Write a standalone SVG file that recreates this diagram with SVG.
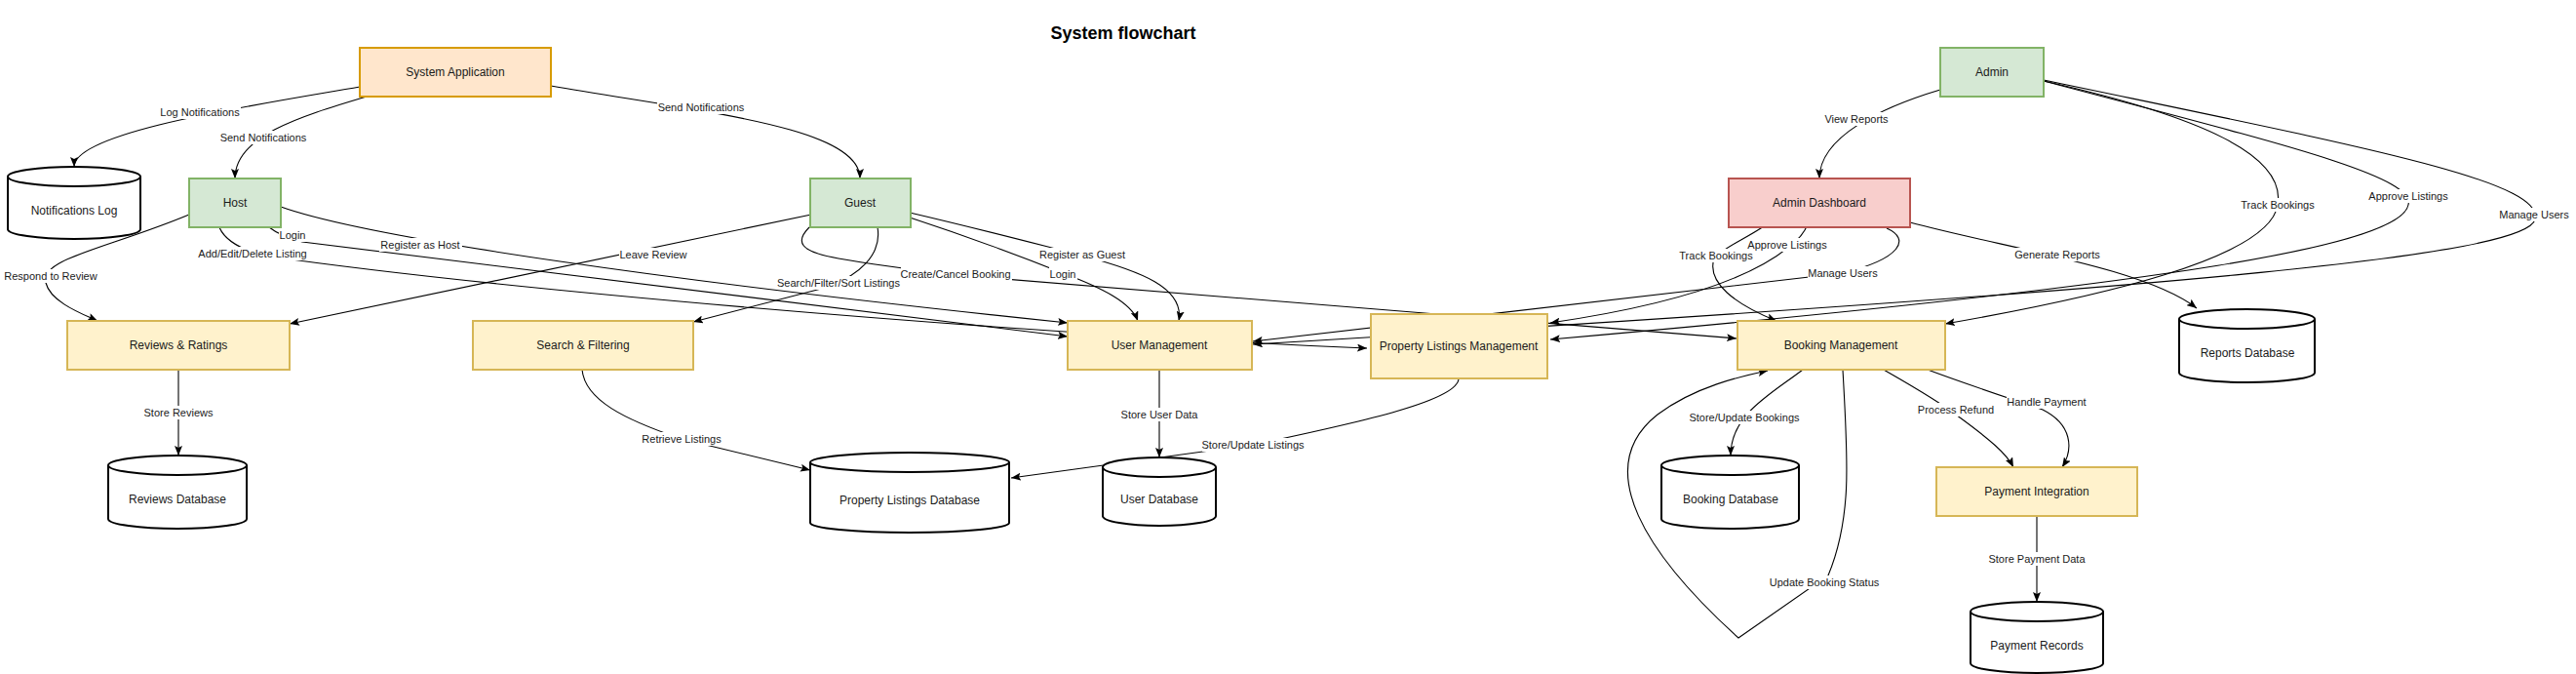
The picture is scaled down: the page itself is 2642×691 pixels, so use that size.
<svg xmlns="http://www.w3.org/2000/svg" width="2642" height="691" viewBox="0 0 2642 691">
<defs>
<style>
.n text{font-family:"Liberation Sans",Arial,sans-serif;font-size:12px;fill:#1a1a1a;text-anchor:middle}
.box{stroke-width:2}
.org{fill:#ffe6cc;stroke:#d79b00}
.grn{fill:#d5e8d4;stroke:#82b366}
.red{fill:#f8cecc;stroke:#b85450}
.yel{fill:#fff2cc;stroke:#d6b656}
.cyl{fill:#ffffff;stroke:#000000;stroke-width:2}
.e path{fill:none;stroke:#000000;stroke-width:1.1;marker-end:url(#arr)}
.e rect{fill:#ffffff}
.e text{font-family:"Liberation Sans",Arial,sans-serif;font-size:11px;fill:#1a1a1a;text-anchor:middle}
.title{font-family:"Liberation Sans",Arial,sans-serif;font-size:18px;font-weight:bold;fill:#000;text-anchor:middle}
</style>
<marker id="arr" viewBox="0 0 10 8" markerWidth="10" markerHeight="8" markerUnits="userSpaceOnUse" refX="10" refY="4" orient="auto">
<path d="M0,0 L10,4 L0,8 L2,4 z" fill="#000"/>
</marker>
</defs>
<rect width="2642" height="691" fill="#ffffff"/>
<text class="title" x="1152" y="40">System flowchart</text>

<g id="connectors" class="e">
<path d="M369,89 C260,108 76,135 76,171"/>
<path d="M376,99 C305,120 241,140 241,183"/>
<path d="M565,88 C720,115 882,130 882,183"/>
<path d="M194,220 C110,255 40,265 47,290 C52,310 85,322 100,329"/>
<path d="M276,233 C285,240 295,244 310,248 L1095,345"/>
<path d="M224,230 C228,245 245,255 270,262 C500,295 1000,340 1402,357"/>
<path d="M288,212 C380,245 700,290 1095,331"/>
<path d="M832,220 L297,332"/>
<path d="M900,233 C905,262 880,282 850,294 L711,330"/>
<path d="M830,233 C815,248 820,258 860,265 C900,272 940,277 980,282 L1781,347"/>
<path d="M933,223 C1000,245 1060,268 1090,280 C1130,295 1160,310 1167,329"/>
<path d="M933,218 C1010,236 1070,252 1110,262 C1170,278 1215,295 1209,329"/>
<path d="M1990,92 C1930,110 1866,140 1866,183"/>
<path d="M2096,83 C2260,120 2345,160 2336,210 C2328,265 2150,305 1995,332"/>
<path d="M2096,83 C2330,145 2478,180 2470,210 C2462,250 2250,290 1590,348"/>
<path d="M2096,82 C2420,150 2610,185 2600,225 C2590,262 2250,295 1285,353"/>
<path d="M1809,232 C1790,245 1765,255 1758,265 C1750,290 1780,312 1822,329"/>
<path d="M1854,230 C1850,240 1843,247 1835,253 C1790,290 1700,315 1590,331"/>
<path d="M1935,234 C1960,245 1950,265 1890,280 L1285,350"/>
<path d="M1959,228 C2060,255 2200,275 2253,316"/>
<path d="M183,379 L183,467"/>
<path d="M597,379 C600,410 640,430 699,450 L831,482"/>
<path d="M1189,379 L1189,469"/>
<path d="M1496,388 C1496,410 1400,432 1285,456 L1037,490"/>
<path d="M1849,379 C1815,405 1775,425 1775,467"/>
<path d="M1890,379 C1895,470 1900,530 1875,590 L1783,654 C1690,570 1630,480 1700,425 C1740,395 1790,385 1813,380"/>
<path d="M1932,379 C1960,395 1990,412 2010,428 C2040,450 2058,465 2065,479"/>
<path d="M1977,379 C2020,395 2060,408 2095,420 C2125,435 2127,460 2115,479"/>
<path d="M2089,529 L2089,617"/>

<rect x="164" y="108" width="83" height="14"/><text x="205" y="119">Log Notifications</text>
<rect x="225" y="134" width="91" height="14"/><text x="270" y="145">Send Notifications</text>
<rect x="674" y="103" width="91" height="14"/><text x="719" y="114">Send Notifications</text>
<rect x="4" y="276" width="97" height="14"/><text x="52" y="287">Respond to Review</text>
<rect x="286" y="234" width="29" height="14"/><text x="300" y="245">Login</text>
<rect x="203" y="253" width="113" height="14"/><text x="259" y="264">Add/Edit/Delete Listing</text>
<rect x="389" y="244" width="85" height="14"/><text x="431" y="255">Register as Host</text>
<rect x="635" y="254" width="71" height="14"/><text x="670" y="265">Leave Review</text>
<rect x="796" y="283" width="129" height="14"/><text x="860" y="294">Search/Filter/Sort Listings</text>
<rect x="924" y="274" width="114" height="14"/><text x="980" y="285">Create/Cancel Booking</text>
<rect x="1076" y="274" width="29" height="14"/><text x="1090" y="285">Login</text>
<rect x="1067" y="254" width="88" height="14"/><text x="1110" y="265">Register as Guest</text>
<rect x="1871" y="115" width="67" height="14"/><text x="1904" y="126">View Reports</text>
<rect x="2298" y="203" width="77" height="14"/><text x="2336" y="214">Track Bookings</text>
<rect x="2429" y="194" width="83" height="14"/><text x="2470" y="205">Approve Listings</text>
<rect x="2563" y="213" width="74" height="14"/><text x="2599" y="224">Manage Users</text>
<rect x="1722" y="255" width="77" height="14"/><text x="1760" y="266">Track Bookings</text>
<rect x="1792" y="244" width="83" height="14"/><text x="1833" y="255">Approve Listings</text>
<rect x="1854" y="273" width="74" height="14"/><text x="1890" y="284">Manage Users</text>
<rect x="2067" y="254" width="87" height="14"/><text x="2110" y="265">Generate Reports</text>
<rect x="147" y="416" width="72" height="14"/><text x="183" y="427">Store Reviews</text>
<rect x="658" y="443" width="83" height="14"/><text x="699" y="454">Retrieve Listings</text>
<rect x="1149" y="418" width="81" height="14"/><text x="1189" y="429">Store User Data</text>
<rect x="1233" y="449" width="106" height="14"/><text x="1285" y="460">Store/Update Listings</text>
<rect x="1732" y="421" width="115" height="14"/><text x="1789" y="432">Store/Update Bookings</text>
<rect x="1815" y="590" width="114" height="14"/><text x="1871" y="601">Update Booking Status</text>
<rect x="1967" y="413" width="80" height="14"/><text x="2006" y="424">Process Refund</text>
<rect x="2058" y="405" width="84" height="14"/><text x="2099" y="416">Handle Payment</text>
<rect x="2039" y="566" width="101" height="14"/><text x="2089" y="577">Store Payment Data</text>
</g>

<g id="system-application" class="n"><rect class="box org" x="369" y="49" width="196" height="50"/><text x="467" y="78">System Application</text></g>
<g id="host" class="n"><rect class="box grn" x="194" y="183" width="94" height="50"/><text x="241" y="212">Host</text></g>
<g id="guest" class="n"><rect class="box grn" x="831" y="183" width="103" height="50"/><text x="882" y="212">Guest</text></g>
<g id="admin" class="n"><rect class="box grn" x="1990" y="49" width="106" height="50"/><text x="2043" y="78">Admin</text></g>
<g id="admin-dashboard" class="n"><rect class="box red" x="1773" y="183" width="186" height="50"/><text x="1866" y="212">Admin Dashboard</text></g>
<g id="reviews-ratings" class="n"><rect class="box yel" x="69" y="329" width="228" height="50"/><text x="183" y="358">Reviews &amp; Ratings</text></g>
<g id="search-filtering" class="n"><rect class="box yel" x="485" y="329" width="226" height="50"/><text x="598" y="358">Search &amp; Filtering</text></g>
<g id="user-management" class="n"><rect class="box yel" x="1095" y="329" width="189" height="50"/><text x="1189" y="358">User Management</text></g>
<g id="property-listings-management" class="n"><rect class="box yel" x="1406" y="322" width="181" height="66"/><text x="1496" y="359">Property Listings Management</text></g>
<g id="booking-management" class="n"><rect class="box yel" x="1782" y="329" width="213" height="50"/><text x="1888" y="358">Booking Management</text></g>
<g id="payment-integration" class="n"><rect class="box yel" x="1986" y="479" width="206" height="50"/><text x="2089" y="508">Payment Integration</text></g>

<g id="notifications-log" class="n"><path class="cyl" d="M8,181 A68,10 0 0 1 144,181 A68,10 0 0 1 8,181 Z M8,181 L8,235 A68,10 0 0 0 144,235 L144,181"/><text x="76" y="220">Notifications Log</text></g>
<g id="reviews-database" class="n"><path class="cyl" d="M111,477 A71,10 0 0 1 253,477 A71,10 0 0 1 111,477 Z M111,477 L111,532 A71,10 0 0 0 253,532 L253,477"/><text x="182" y="516">Reviews Database</text></g>
<g id="property-listings-database" class="n"><path class="cyl" d="M831,474 A102,10 0 0 1 1035,474 A102,10 0 0 1 831,474 Z M831,474 L831,536 A102,10 0 0 0 1035,536 L1035,474"/><text x="933" y="517">Property Listings Database</text></g>
<g id="user-database" class="n"><path class="cyl" d="M1131,479 A58,10 0 0 1 1247,479 A58,10 0 0 1 1131,479 Z M1131,479 L1131,529 A58,10 0 0 0 1247,529 L1247,479"/><text x="1189" y="516">User Database</text></g>
<g id="booking-database" class="n"><path class="cyl" d="M1704,477 A70.5,10 0 0 1 1845,477 A70.5,10 0 0 1 1704,477 Z M1704,477 L1704,532 A70.5,10 0 0 0 1845,532 L1845,477"/><text x="1775" y="516">Booking Database</text></g>
<g id="reports-database" class="n"><path class="cyl" d="M2235,327 A69.5,10 0 0 1 2374,327 A69.5,10 0 0 1 2235,327 Z M2235,327 L2235,382 A69.5,10 0 0 0 2374,382 L2374,327"/><text x="2305" y="366">Reports Database</text></g>
<g id="payment-records" class="n"><path class="cyl" d="M2021,627 A68,10 0 0 1 2157,627 A68,10 0 0 1 2021,627 Z M2021,627 L2021,680 A68,10 0 0 0 2157,680 L2157,627"/><text x="2089" y="666">Payment Records</text></g>
</svg>
